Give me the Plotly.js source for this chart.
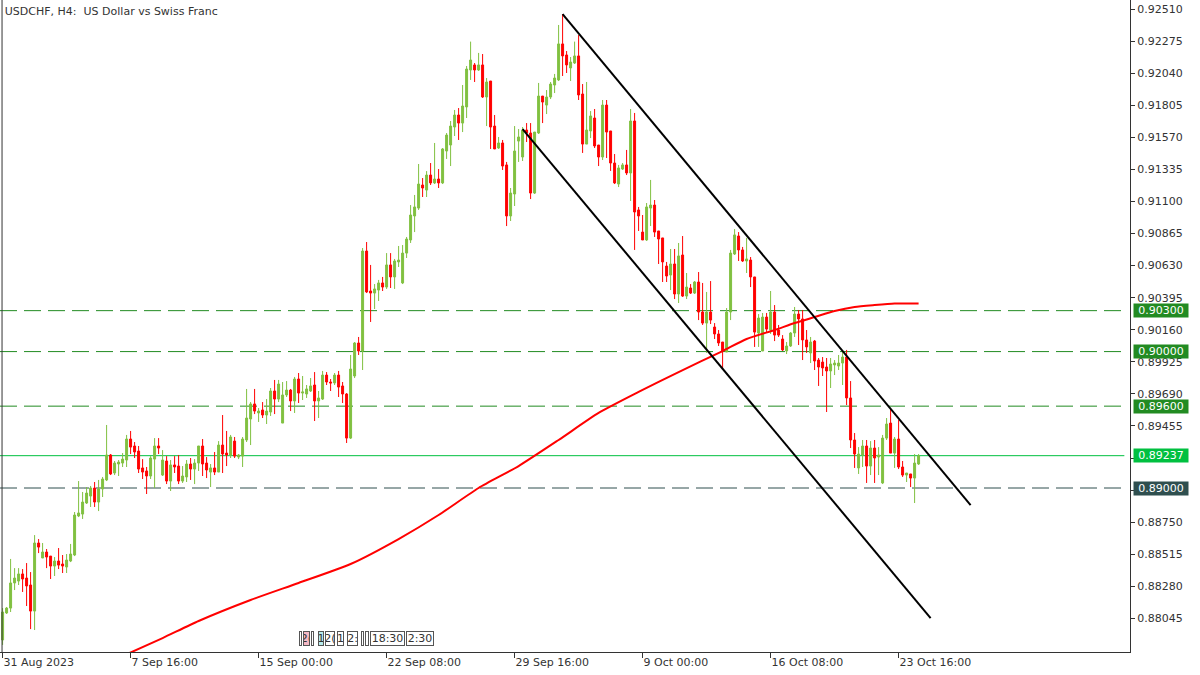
<!DOCTYPE html>
<html>
<head>
<meta charset="utf-8">
<script src="https://cdn.plot.ly/plotly-3.0.1.min.js"></script>
<style>html,body{margin:0;padding:0;background:#fff;}#chart{width:1200px;height:675px;}</style>
</head>
<body>
<div id="chart"></div>
<script>
// ---- Data (USDCHF H4) ----
const open = [0.87886,0.88084,0.88120,0.88304,0.88318,0.88370,0.88340,0.88289,0.88098,0.88597,
0.88487,0.88531,0.88501,0.88428,0.88465,0.88443,0.88421,0.88465,0.88509,0.88795,
0.88809,0.88890,0.88941,0.89000,0.88897,0.88993,0.89059,0.89242,0.89110,0.89176,
0.89183,0.89205,0.89359,0.89308,0.89271,0.89147,0.89125,0.89088,0.89212,0.89308,
0.89095,0.89198,0.89051,0.89169,0.89161,0.89051,0.89081,0.89176,0.89139,0.89183,
0.89308,0.89183,0.89117,0.89147,0.89117,0.89315,0.89256,0.89242,0.89344,0.89227,
0.89234,0.89352,0.89506,0.89616,0.89550,0.89572,0.89535,0.89557,0.89711,0.89652,
0.89476,0.89682,0.89718,0.89638,0.89799,0.89696,0.89689,0.89711,0.89755,0.89638,
0.89652,0.89828,0.89777,0.89770,0.89828,0.89748,0.89689,0.89366,0.89821,0.90063,
0.90004,0.90737,0.90444,0.90429,0.90451,0.90503,0.90473,0.90635,0.90547,0.90657,
0.90503,0.90722,0.90818,0.90994,0.91052,0.91221,0.91184,0.91294,0.91236,0.91265,
0.91236,0.91470,0.91514,0.91646,0.91734,0.91675,0.91793,0.92064,0.92101,0.92064,
0.92101,0.91866,0.91983,0.91653,0.91492,0.91529,0.91368,0.90994,0.91155,0.91543,
0.91426,0.91624,0.91602,0.91162,0.91602,0.91873,0.91807,0.91866,0.91954,0.91991,
0.92255,0.92174,0.92079,0.92115,0.92167,0.91888,0.91521,0.91617,0.91712,0.91514,
0.91426,0.91807,0.91617,0.91382,0.91228,0.91338,0.91368,0.91309,0.91690,0.91038,
0.90876,0.90818,0.91052,0.91074,0.90884,0.90833,0.90627,0.90561,0.90642,0.90422,
0.90708,0.90407,0.90466,0.90429,0.90510,0.90290,0.90209,0.90290,0.90180,0.90129,
0.90070,0.89997,0.90290,0.90715,0.90847,0.90745,0.90664,0.90671,0.90547,0.90136,
0.90004,0.90253,0.90158,0.90290,0.90158,0.90092,0.90004,0.90041,0.90136,0.90275,
0.90239,0.90085,0.89990,0.90077,0.89938,0.89923,0.89887,0.89858,0.89902,0.89894,
0.89916,0.89960,0.89660,0.89352,0.89147,0.89242,0.89308,0.89161,0.89293,0.89227,
0.89037,0.89366,0.89476,0.89256,0.89359,0.89154,0.89095,0.89103,0.89073,0.89176];

const high = [0.88120,0.88128,0.88480,0.88413,0.88413,0.88406,0.88450,0.88384,0.88655,0.88626,
0.88597,0.88553,0.88501,0.88494,0.88560,0.88509,0.88516,0.88590,0.88824,0.89051,
0.88971,0.89007,0.89015,0.89044,0.89059,0.89081,0.89462,0.89249,0.89198,0.89205,
0.89256,0.89389,0.89418,0.89337,0.89308,0.89212,0.89154,0.89234,0.89366,0.89366,
0.89278,0.89234,0.89205,0.89234,0.89242,0.89161,0.89205,0.89220,0.89212,0.89308,
0.89359,0.89227,0.89176,0.89264,0.89344,0.89535,0.89418,0.89389,0.89374,0.89249,
0.89374,0.89726,0.89630,0.89726,0.89586,0.89630,0.89652,0.89733,0.89792,0.89792,
0.89777,0.89784,0.89726,0.89814,0.89843,0.89821,0.89755,0.89806,0.89850,0.89711,
0.89858,0.89850,0.89799,0.89843,0.89858,0.89777,0.89696,0.89975,0.90070,0.90107,
0.90759,0.90803,0.90635,0.90495,0.90525,0.90547,0.90722,0.90722,0.90679,0.90774,
0.90781,0.90840,0.91074,0.91148,0.91375,0.91272,0.91323,0.91382,0.91529,0.91338,
0.91492,0.91602,0.91690,0.91771,0.91785,0.91954,0.92093,0.92272,0.92115,0.92189,
0.92181,0.92005,0.91983,0.91734,0.91573,0.91551,0.91390,0.91199,0.91653,0.91631,
0.91646,0.91675,0.91675,0.91609,0.91969,0.91873,0.91917,0.91976,0.92035,0.92394,
0.92474,0.92203,0.92159,0.92272,0.92320,0.91961,0.91976,0.91763,0.91778,0.91514,
0.91844,0.91844,0.91617,0.91448,0.91368,0.91382,0.91478,0.91778,0.91749,0.91060,
0.91001,0.91089,0.91258,0.91111,0.90884,0.90833,0.90657,0.90752,0.90752,0.90796,
0.90847,0.90576,0.90495,0.90517,0.90583,0.90503,0.90437,0.90517,0.90209,0.90158,
0.90070,0.90319,0.90745,0.90898,0.90876,0.90767,0.90833,0.90693,0.90547,0.90275,
0.90283,0.90283,0.90444,0.90341,0.90195,0.90121,0.90070,0.90143,0.90327,0.90305,
0.90305,0.90158,0.90107,0.90085,0.89953,0.89960,0.89953,0.89953,0.89938,0.89975,
0.90012,0.90012,0.89784,0.89403,0.89300,0.89352,0.89352,0.89344,0.89352,0.89300,
0.89389,0.89513,0.89586,0.89374,0.89498,0.89198,0.89110,0.89103,0.89249,0.89249];

const low = [0.87850,0.88077,0.88091,0.88252,0.88289,0.88238,0.88135,0.87966,0.87959,0.88523,
0.88487,0.88413,0.88333,0.88355,0.88406,0.88377,0.88377,0.88457,0.88501,0.88787,
0.88773,0.88883,0.88861,0.88861,0.88831,0.88934,0.89051,0.89095,0.89095,0.89088,
0.89154,0.89154,0.89249,0.89220,0.89110,0.89066,0.88956,0.89066,0.89000,0.89249,
0.89088,0.89029,0.88978,0.89110,0.89029,0.89037,0.89044,0.89059,0.89029,0.89125,
0.89088,0.89073,0.89007,0.89095,0.89117,0.89110,0.89161,0.89220,0.89220,0.89212,
0.89154,0.89337,0.89315,0.89542,0.89484,0.89513,0.89469,0.89528,0.89542,0.89630,
0.89476,0.89667,0.89564,0.89550,0.89623,0.89645,0.89660,0.89704,0.89491,0.89513,
0.89645,0.89755,0.89711,0.89755,0.89667,0.89623,0.89330,0.89359,0.89806,0.89975,
0.89865,0.90429,0.90217,0.90312,0.90371,0.90444,0.90459,0.90466,0.90459,0.90620,
0.90495,0.90686,0.90796,0.90876,0.91038,0.91133,0.91133,0.91221,0.91228,0.91199,
0.91228,0.91412,0.91360,0.91580,0.91551,0.91609,0.91712,0.91991,0.91976,0.92057,
0.91859,0.91653,0.91485,0.91485,0.91485,0.91331,0.90920,0.90957,0.91067,0.91390,
0.91397,0.91536,0.91118,0.91155,0.91595,0.91675,0.91741,0.91851,0.91895,0.91983,
0.92020,0.92042,0.91983,0.92108,0.91844,0.91456,0.91521,0.91565,0.91492,0.91360,
0.91404,0.91419,0.91324,0.91228,0.91206,0.91331,0.91294,0.91104,0.90745,0.90884,
0.90818,0.90811,0.90920,0.90840,0.90642,0.90510,0.90510,0.90451,0.90385,0.90356,
0.90400,0.90385,0.90422,0.90422,0.90231,0.90195,0.89990,0.90202,0.90092,0.90041,
0.89872,0.89997,0.90231,0.90708,0.90664,0.90657,0.90576,0.90473,0.90034,0.90034,
0.90004,0.90136,0.90129,0.90077,0.90107,0.90004,0.89982,0.90034,0.90107,0.90048,
0.89938,0.89990,0.89916,0.89865,0.89748,0.89821,0.89557,0.89733,0.89828,0.89865,
0.89755,0.89608,0.89293,0.89147,0.89103,0.89154,0.89037,0.89095,0.89037,0.89095,
0.89029,0.89352,0.89256,0.89147,0.89139,0.89081,0.89044,0.89007,0.88890,0.89169];

const close = [0.88091,0.88120,0.88304,0.88340,0.88370,0.88333,0.88282,0.88098,0.88597,0.88567,
0.88531,0.88494,0.88428,0.88465,0.88435,0.88428,0.88472,0.88516,0.88802,0.88817,
0.88897,0.88963,0.89000,0.88897,0.88993,0.89066,0.89242,0.89103,0.89183,0.89190,
0.89212,0.89359,0.89300,0.89264,0.89139,0.89117,0.89088,0.89220,0.89308,0.89293,
0.89205,0.89051,0.89169,0.89154,0.89051,0.89088,0.89176,0.89139,0.89183,0.89308,
0.89176,0.89132,0.89147,0.89117,0.89315,0.89249,0.89242,0.89374,0.89234,0.89242,
0.89359,0.89513,0.89616,0.89564,0.89564,0.89535,0.89564,0.89711,0.89652,0.89762,
0.89682,0.89718,0.89638,0.89799,0.89696,0.89704,0.89726,0.89748,0.89638,0.89660,
0.89828,0.89777,0.89770,0.89828,0.89740,0.89689,0.89366,0.89872,0.90063,0.90004,
0.90737,0.90437,0.90429,0.90459,0.90503,0.90473,0.90635,0.90547,0.90664,0.90671,
0.90722,0.90825,0.91001,0.91060,0.91228,0.91199,0.91294,0.91236,0.91265,0.91236,
0.91485,0.91587,0.91653,0.91734,0.91675,0.91800,0.92071,0.92137,0.92064,0.92101,
0.91866,0.91976,0.91646,0.91485,0.91529,0.91360,0.90994,0.91162,0.91470,0.91573,
0.91624,0.91602,0.91162,0.91609,0.91873,0.91829,0.91866,0.91961,0.92005,0.92255,
0.92167,0.92101,0.92122,0.92167,0.91881,0.91521,0.91624,0.91727,0.91507,0.91426,
0.91807,0.91609,0.91382,0.91236,0.91346,0.91368,0.91309,0.91690,0.91023,0.90994,
0.90818,0.91060,0.91074,0.90876,0.90825,0.90657,0.90554,0.90642,0.90422,0.90701,
0.90407,0.90473,0.90429,0.90510,0.90290,0.90209,0.90290,0.90231,0.90129,0.90063,
0.90004,0.90290,0.90722,0.90855,0.90745,0.90664,0.90679,0.90547,0.90143,0.90246,
0.90253,0.90165,0.90290,0.90121,0.90121,0.90012,0.90041,0.90136,0.90275,0.90239,
0.90085,0.90034,0.90070,0.89931,0.89887,0.89880,0.89858,0.89909,0.89916,0.89916,
0.89960,0.89660,0.89352,0.89249,0.89249,0.89308,0.89161,0.89293,0.89220,0.89242,
0.89366,0.89469,0.89256,0.89359,0.89154,0.89095,0.89110,0.89073,0.89183,0.89237];

// Moving average (read at sampled bars)
const maBar = [30,40,49,62,74,87,99,109,119,129,139,149,159,169,180,186,193,198,203,208,213,218,223,229];
const maVal = [0.87768,0.87900,0.88025,0.88179,0.88304,0.88443,0.88626,0.88802,0.89000,0.89161,0.89352,0.89550,0.89704,0.89850,0.90004,0.90092,0.90158,0.90209,0.90253,0.90297,0.90327,0.90341,0.90352,0.90352];

// Channel trend lines [bar, price] endpoints
const upperLineBar = [140, 242];
const upperLinePrice = [0.92474, 0.88875];
const lowerLineBar = [130, 232];
const lowerLinePrice = [0.91631, 0.88047];

// Horizontal levels
const levelsGreen = [0.90300, 0.90000, 0.89600];
const levelDark = 0.89000;
const currentPrice = 0.89237;

// Axis labels
const xTickBars = [0, 32, 64, 96, 128, 160, 192, 224];
const xTickText = ['31 Aug 2023','7 Sep 16:00','15 Sep 00:00','22 Sep 08:00','29 Sep 16:00','9 Oct 00:00','16 Oct 08:00','23 Oct 16:00'];
const yTickVals = [0.92510,0.92275,0.92040,0.91805,0.91570,0.91335,0.91100,0.90865,0.90630,0.90395,0.90160,0.89925,0.89690,0.89455,0.89220,0.88985,0.88750,0.88515,0.88280,0.88045];
// tick labels hidden behind the price boxes in the reference
const yTickHidden = [0.89220, 0.88985];

const bars = open.map((_, i) => i);
const FONT = 'DejaVu Sans';
const TXT = '#333333';
const GREEN_C = '#80c040';
const RED_C = '#ff0000';

const traces = [
  {
    type: 'candlestick', x: bars, open: open, high: high, low: low, close: close,
    increasing: {line: {color: GREEN_C, width: 1}, fillcolor: GREEN_C},
    decreasing: {line: {color: RED_C, width: 1}, fillcolor: RED_C},
    whiskerwidth: 0, hoverinfo: 'skip', showlegend: false
  },
  {
    type: 'scatter', mode: 'lines', x: maBar, y: maVal,
    line: {color: '#ff0000', width: 2, shape: 'spline', smoothing: 0.6},
    hoverinfo: 'skip', showlegend: false
  },
  {
    type: 'scatter', mode: 'lines', x: upperLineBar, y: upperLinePrice,
    line: {color: '#000000', width: 2}, hoverinfo: 'skip', showlegend: false
  },
  {
    type: 'scatter', mode: 'lines', x: lowerLineBar, y: lowerLinePrice,
    line: {color: '#000000', width: 2}, hoverinfo: 'skip', showlegend: false
  }
];

const shapes = [];
levelsGreen.forEach(v => shapes.push({type:'line', xref:'paper', x0:0, x1:0.995, yref:'y', y0:v, y1:v,
  line:{color:'#228b22', width:1, dash:'17px,7px'}, layer:'below'}));
shapes.push({type:'line', xref:'paper', x0:0, x1:0.995, yref:'y', y0:levelDark, y1:levelDark,
  line:{color:'#2f4f4f', width:1, dash:'17px,7px'}, layer:'below'});
shapes.push({type:'line', xref:'paper', x0:0, x1:0.995, yref:'y', y0:currentPrice, y1:currentPrice,
  line:{color:'#00c040', width:1}, layer:'below'});
shapes.push({type:'line', xref:'paper', x0:0.0018, x1:0.0018, yref:'paper', y0:0, y1:1,
  line:{color:'#333333', width:1}});

const annotations = [];
function priceBox(v, bg) {
  annotations.push({xref:'paper', x:1, xanchor:'left', xshift:3, yref:'y', y:v, yanchor:'middle',
    text: v.toFixed(5), showarrow:false, bgcolor:bg, width:54, height:13, borderpad:0,
    font:{family:FONT, size:11, color:'#ffffff'}});
}
levelsGreen.forEach(v => priceBox(v, '#228b22'));
priceBox(currentPrice, '#00c040');
priceBox(levelDark, '#2f4f4f');

// Event markers near the bottom (decorative boxes as in the terminal)
const events = [
  {t:' ', a:299, b:302, bg:'#ffffff'},
  {t:'2(', a:303, b:310, bg:'#f4b8c4'},
  {t:' ', a:311, b:313, bg:'#ffffff'},
  {t:'1', a:318, b:324, bg:'#b8ecec'},
  {t:'2(', a:325, b:335, bg:'#ffffff'},
  {t:'1', a:337, b:344, bg:'#ffffff'},
  {t:'2:', a:347, b:358, bg:'#ffffff'},
  {t:' ', a:361, b:364, bg:'#ffffff'},
  {t:' ', a:365, b:369, bg:'#ffffff'},
  {t:'18:30', a:370, b:405, bg:'#ffffff'},
  {t:'2:30', a:406, b:434, bg:'#ffffff'}
];
events.forEach(e => annotations.push({xref:'paper', x:((e.a+e.b)/2)/1130, xanchor:'center',
  yref:'paper', y:(652-638.5)/652, yanchor:'middle', text:e.t, showarrow:false,
  bgcolor:e.bg, bordercolor:'#555555', borderwidth:1, borderpad:0,
  width:Math.max(1, e.b-e.a-2), height:13, font:{family:FONT, size:11, color:TXT}}));

const layout = {
  width: 1200, height: 675,
  margin: {l:0, r:70, t:0, b:23, pad:0},
  paper_bgcolor: '#ffffff', plot_bgcolor: '#ffffff',
  showlegend: false,
  title: {text:'USDCHF, H4:\u00a0 US Dollar vs Swiss Franc', xref:'container', yref:'container',
    x:0.004, xanchor:'left', y:1-11/675, yanchor:'middle', font:{family:FONT, size:11, color:TXT}},
  xaxis: {range:[-0.65, 281.85], showgrid:false, zeroline:false, showline:true, linecolor:'#333333', linewidth:1,
    ticks:'outside', ticklen:5, tickcolor:'#333333', tickvals:xTickBars, ticktext:xTickText,
    ticklabelposition:'outside right', tickfont:{family:FONT, size:11, color:TXT},
    rangeslider:{visible:false}, fixedrange:true},
  yaxis: {side:'right', range:[0.87798, 0.92577], showgrid:false, zeroline:false, showline:true,
    linecolor:'#333333', linewidth:1, ticks:'outside', ticklen:4, tickcolor:'#333333',
    tickvals:yTickVals,
    ticktext:yTickVals.map(v => yTickHidden.includes(v) ? '' : v.toFixed(5)),
    tickfont:{family:FONT, size:11, color:TXT}, fixedrange:true},
  shapes: shapes,
  annotations: annotations,
  hovermode: false
};

Plotly.newPlot('chart', traces, layout, {staticPlot:true, displayModeBar:false});
</script>
</body>
</html>
